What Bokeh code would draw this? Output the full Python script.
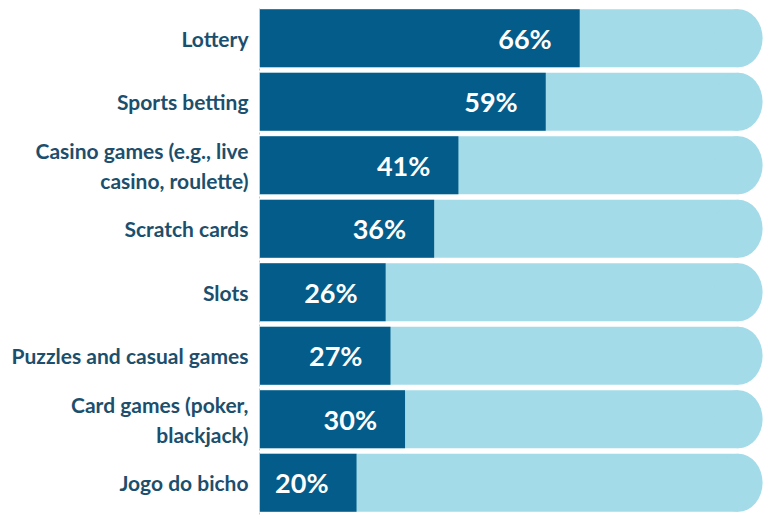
from bokeh.plotting import figure
from bokeh.models import Range1d, ColumnDataSource
from bokeh.core.properties import value
from bokeh.embed import file_html
from bokeh.resources import INLINE

categories = ["Lottery", "Sports betting", "Casino games (e.g., live\ncasino, roulette)",
              "Scratch cards", "Slots", "Puzzles and casual games",
              "Card games (poker,\nblackjack)", "Jogo do bicho"]
shares = [66, 59, 41, 36, 26, 27, 30, 20]
labels = [f"{v}%" for v in shares]

DARK = "#035c89"
LIGHT = "#a3dbe8"
TEXT = "#1c4f6d"

factors = list(reversed(categories))
p = figure(width=769, height=519, y_range=factors, x_range=Range1d(0, 104.3),
           output_backend="svg", toolbar_location=None,
           min_border_left=259, min_border_right=4, min_border_top=6, min_border_bottom=5)
p.outline_line_color = None
p.background_fill_color = "white"
p.xaxis.visible = False
p.xgrid.grid_line_color = None
p.ygrid.grid_line_color = None

src = ColumnDataSource(dict(cat=categories, v=shares, lab=labels,
                            bg=[98.7] * len(categories), cap=[98.7] * len(categories)))
bar_h = 0.914
p.hbar(y="cat", left=0, right="bg", height=bar_h, source=src, color=LIGHT, line_color=None)
p.ellipse(x="cap", y="cat", width=10, height=bar_h, source=src, color=LIGHT, line_color=None)
p.hbar(y="cat", left=0, right="v", height=bar_h, source=src, color=DARK, line_color=None)
p.text(x="v", y="cat", text="lab", source=src, x_offset=-28, text_align="right",
       text_baseline="middle", text_color="white", text_font=value("Lato"),
       text_font_size="27px", text_font_style="bold")

yax = p.yaxis[0]
yax.major_tick_line_color = None
yax.minor_tick_line_color = None
yax.axis_line_color = "#c8c8c8"
yax.axis_line_dash = "2 2"
yax.major_label_standoff = 5
yax.major_label_text_font = "Lato"
yax.major_label_text_font_style = "bold"
yax.major_label_text_font_size = "21px"
yax.major_label_text_color = TEXT

open("out.html", "w").write(file_html(p, INLINE))
